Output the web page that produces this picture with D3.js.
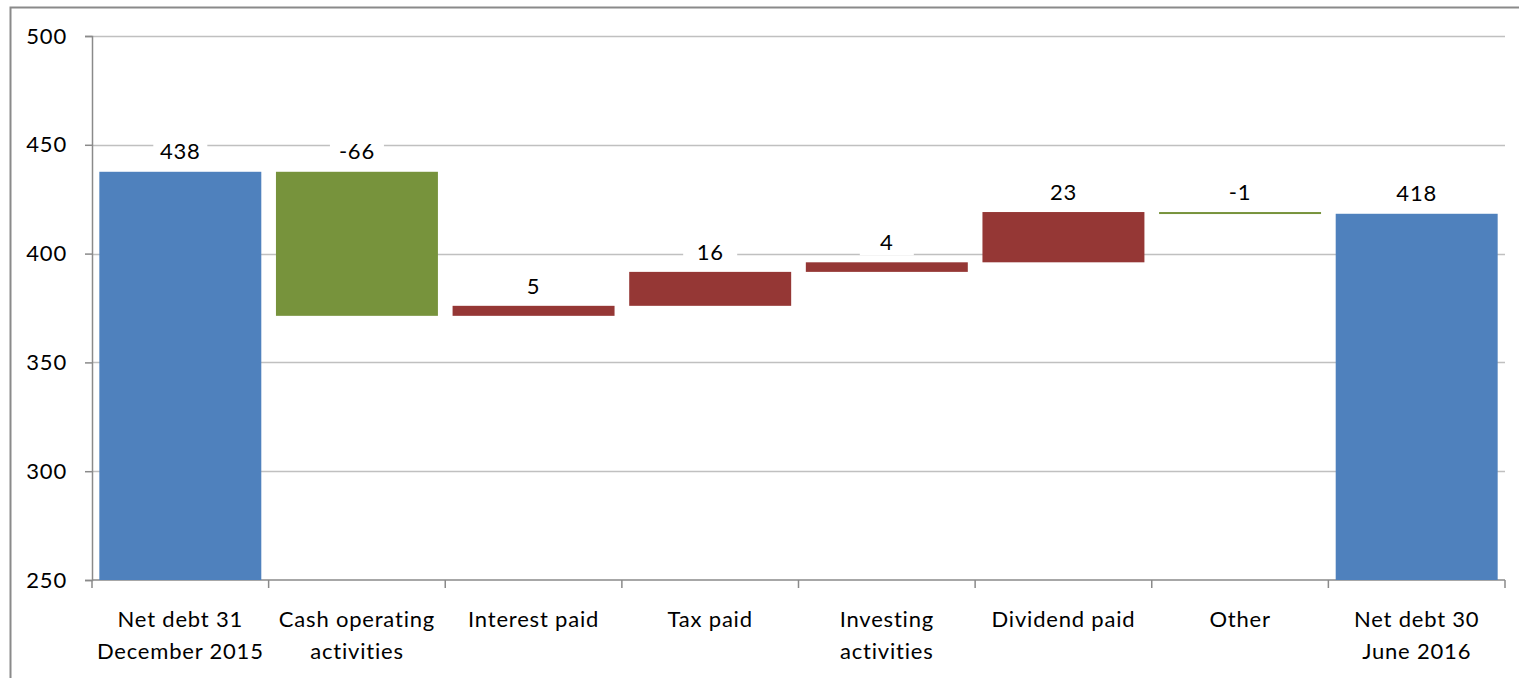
<!DOCTYPE html>
<html>
<head>
<meta charset="utf-8">
<script src="https://cdn.jsdelivr.net/npm/d3@7"></script>
<style>
  body { margin: 0; background: #fff; }
  svg text { font-family: Lato, "Open Sans", sans-serif; fill: #000; letter-spacing: 0.8px; }
</style>
</head>
<body>
<div id="chart"></div>
<script>
// waterfall data (values estimated from bar edges, labels are rounded)
const categories = [
  ["Net debt 31", "December 2015"],
  ["Cash operating", "activities"],
  ["Interest paid"],
  ["Tax paid"],
  ["Investing", "activities"],
  ["Dividend paid"],
  ["Other"],
  ["Net debt 30", "June 2016"]
];
const values = [437.6, -66.2, 4.6, 15.6, 4.4, 23.1, -0.6, 418.3];
const kinds = ["total", "step", "step", "step", "step", "step", "step", "total"];
const yTicks = [250, 300, 350, 400, 450, 500];

const colors = { total: "#4F81BD", down: "#77933C", up: "#953735" };

const width = 1519, height = 678;
const margin = { left: 92, right: 14, top: 36, bottom: 98 };
const fontSize = 22;

let svg = d3.select("#chart").append("svg")
  .attr("width", width)
  .attr("height", height);

// outer frame
svg.append("rect")
  .attr("x", 10.5).attr("y", 7.5)
  .attr("width", width).attr("height", height)
  .attr("fill", "none")
  .attr("stroke", "#8a8a8a")
  .attr("stroke-width", 2);

let x = d3.scaleBand()
  .domain(d3.range(categories.length))
  .range([margin.left, width - margin.right])
  .paddingInner(0.083)
  .paddingOuter(0.0415);

let y = d3.scaleLinear()
  .domain([250, 500])
  .range([height - margin.bottom, margin.top]);

// build bar extents
let running = 0;
let bars = values.map((v, i) => {
  if (kinds[i] === "total") {
    running = v;
    return { i: i, lo: 250, hi: v, color: colors.total, label: Math.round(v) };
  }
  let start = running;
  running = start + v;
  return {
    i: i,
    lo: Math.min(start, running),
    hi: Math.max(start, running),
    color: v < 0 ? colors.down : colors.up,
    label: Math.round(v)
  };
});

// gridlines
svg.append("g")
  .selectAll("line")
  .data(yTicks.slice(1))
  .join("line")
  .attr("x1", margin.left)
  .attr("x2", width - margin.right)
  .attr("y1", d => Math.round(y(d)) + 0.5)
  .attr("y2", d => Math.round(y(d)) + 0.5)
  .attr("stroke", "#c0c0c0")
  .attr("stroke-width", 1.5);

// y axis
let yAxis = svg.append("g")
  .attr("transform", `translate(${margin.left},0)`)
  .call(d3.axisLeft(y).tickValues(yTicks).tickSize(7).tickPadding(18));
yAxis.select(".domain").attr("stroke", "#8a8a8a").attr("stroke-width", 1.5);
yAxis.selectAll(".tick line").attr("stroke", "#8a8a8a").attr("stroke-width", 1.5);
yAxis.selectAll(".tick text").attr("font-size", fontSize).attr("font-family", "Lato, sans-serif");

// x axis line and boundary ticks
let x0 = y(250);
svg.append("line")
  .attr("x1", margin.left).attr("x2", width - margin.right)
  .attr("y1", x0).attr("y2", x0)
  .attr("stroke", "#8a8a8a").attr("stroke-width", 1.5);
let step = x.step();
svg.append("g")
  .selectAll("line")
  .data(d3.range(categories.length + 1))
  .join("line")
  .attr("x1", d => margin.left + d * step)
  .attr("x2", d => margin.left + d * step)
  .attr("y1", x0).attr("y2", x0 + 8)
  .attr("stroke", "#8a8a8a").attr("stroke-width", 1.5);

// bars
svg.append("g")
  .selectAll("rect")
  .data(bars)
  .join("rect")
  .attr("x", d => x(d.i))
  .attr("width", x.bandwidth())
  .attr("y", d => y(d.hi))
  .attr("height", d => Math.max(2, y(d.lo) - y(d.hi)))
  .attr("fill", d => d.color);

// value labels with white background
let labels = svg.append("g")
  .selectAll("g")
  .data(bars)
  .join("g")
  .attr("transform", d => `translate(${x(d.i) + x.bandwidth() / 2},${y(d.hi) - 20})`);
labels.append("rect")
  .attr("x", -27).attr("y", -13)
  .attr("width", 54).attr("height", 26)
  .attr("fill", "#fff");
labels.append("text")
  .attr("text-anchor", "middle")
  .attr("dy", "0.35em")
  .attr("font-size", fontSize)
  .text(d => d.label);

// category labels
svg.append("g")
  .selectAll("text")
  .data(categories)
  .join("text")
  .attr("text-anchor", "middle")
  .attr("font-size", fontSize)
  .attr("transform", (d, i) => `translate(${x(i) + x.bandwidth() / 2},${x0 + 47})`)
  .each(function (d) {
    d3.select(this).selectAll("tspan")
      .data(d)
      .join("tspan")
      .attr("x", 0)
      .attr("dy", (t, j) => j === 0 ? 0 : 32)
      .text(t => t);
  });
</script>
</body>
</html>
